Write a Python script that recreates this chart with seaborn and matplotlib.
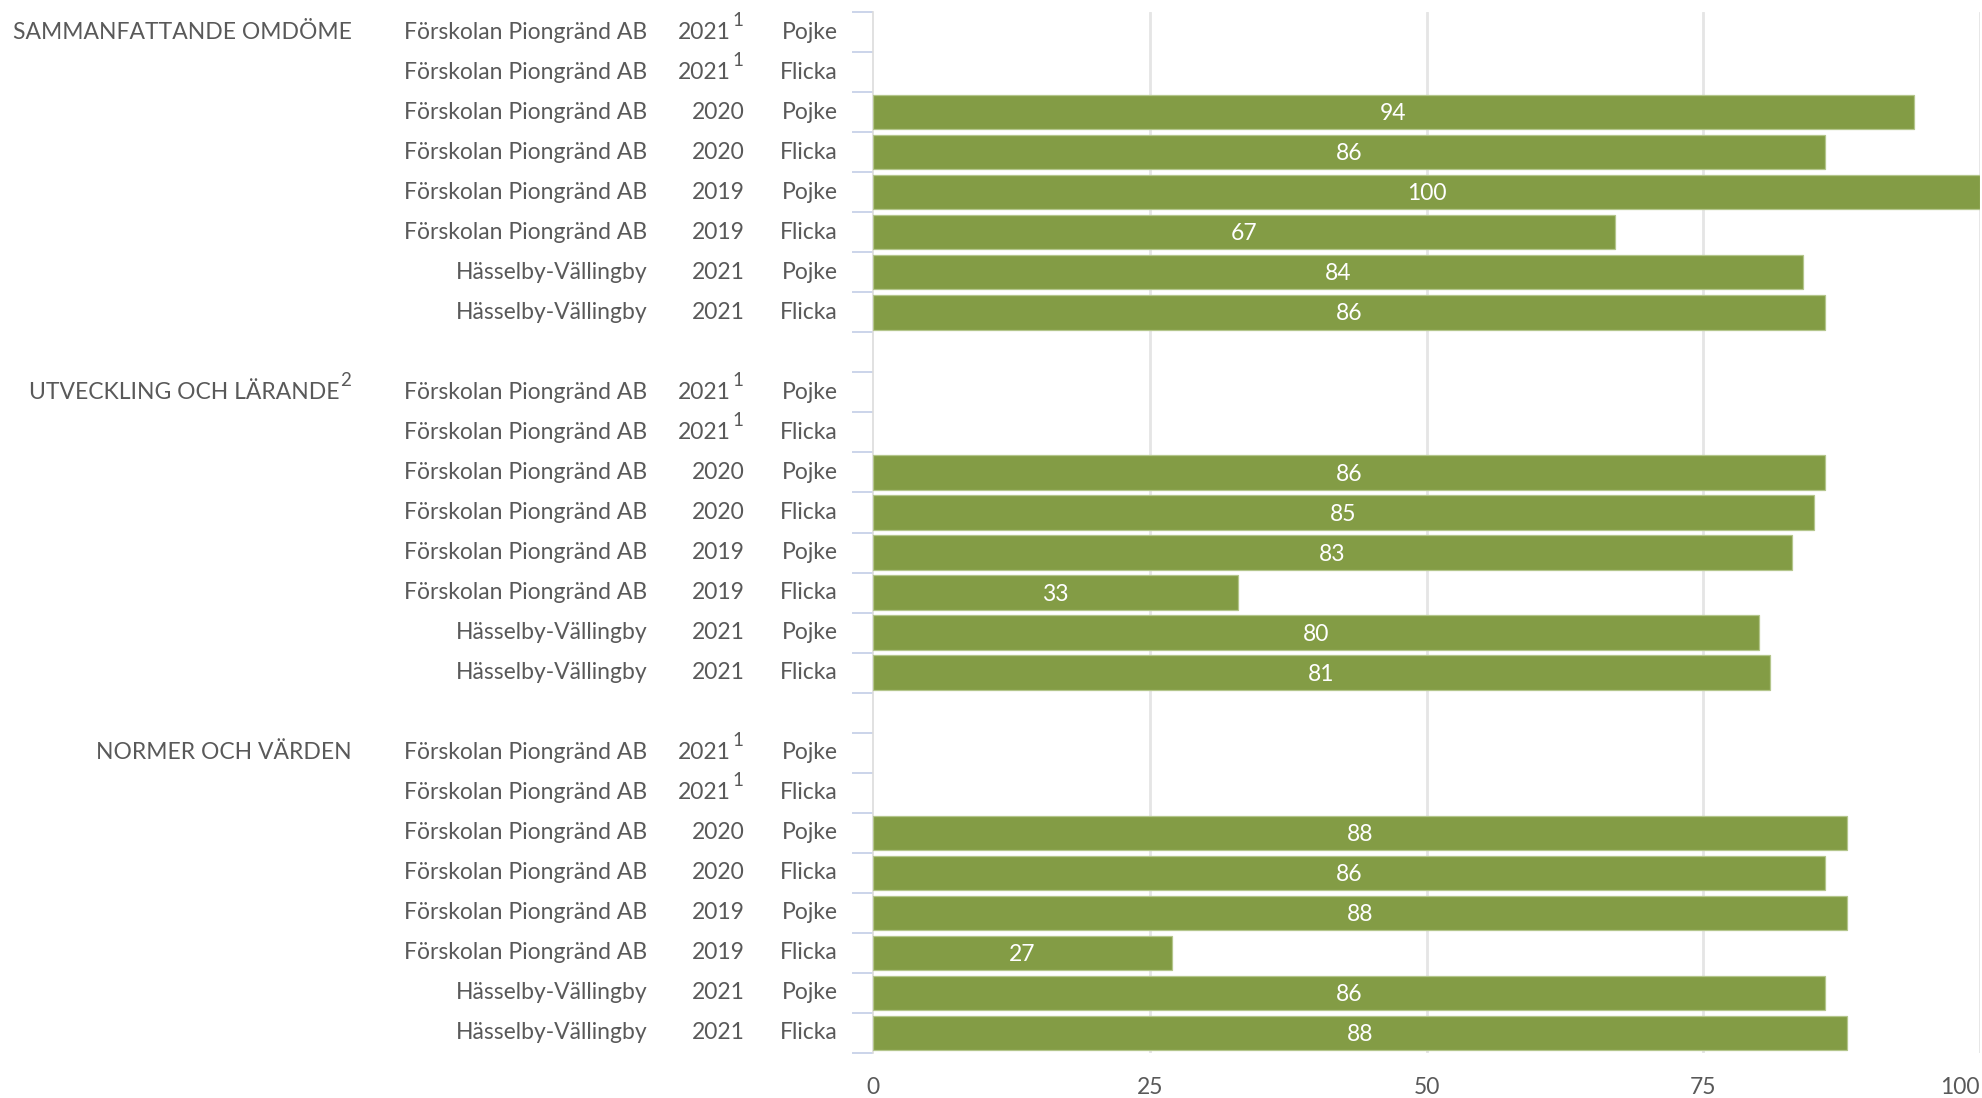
import numpy as np
import pandas as pd
import matplotlib
matplotlib.use("Agg")
import matplotlib.pyplot as plt
import matplotlib.transforms as mtransforms
import seaborn as sns

# ---------------- data ----------------
groups = ["SAMMANFATTANDE OMDÖME", "UTVECKLING OCH LÄRANDE", "NORMER OCH VÄRDEN"]
group_sup = ["", "2", ""]
units = ["Förskolan Piongränd AB"] * 6 + ["Hässelby-Vällingby"] * 2
years = ["2021", "2021", "2020", "2020", "2019", "2019", "2021", "2021"]
year_sup = ["1", "1", "", "", "", "", "", ""]
genders = ["Pojke", "Flicka"] * 4
values_omdome = [np.nan, np.nan, 94, 86, 100, 67, 84, 86]
values_larande = [np.nan, np.nan, 86, 85, 83, 33, 80, 81]
values_normer = [np.nan, np.nan, 88, 86, 88, 27, 86, 88]
x_ticks = [0, 25, 50, 75, 100]

# ---------------- build table ----------------
all_values = [values_omdome, values_larande, values_normer]
rows, vals = [], []
for gi, gv in enumerate(all_values):
    for ri, v in enumerate(gv):
        rows.append(f"g{gi}r{ri}")
        vals.append(v)
    if gi < len(all_values) - 1:
        rows.append(f"gap{gi}")
        vals.append(np.nan)
df = pd.DataFrame({"row": rows, "value": vals})

# ---------------- style ----------------
sns.set_theme(style="white")
plt.rcParams["font.family"] = ["Lato", "DejaVu Sans"]
GREY = "#595959"
GREEN = "#839c45"
FS = 16.5

W, H = 1983, 1098
fig = plt.figure(figsize=(W / 100, H / 100), dpi=100)
x0_px, x1_px = 873, 1980
top_px, bot_px = 12, 1053
ax = fig.add_axes([x0_px / W, 1 - bot_px / H, (x1_px - x0_px) / W, (bot_px - top_px) / H])

sns.barplot(data=df, x="value", y="row", order=rows, orient="h", color=GREEN,
            saturation=1, width=0.86, edgecolor="#b4c68c", linewidth=0.9,
            ax=ax, zorder=3)

ax.set_xlim(0, 100)
ax.set_ylim(len(rows) - 0.5, -0.5)
ax.set_xlabel("")
ax.set_ylabel("")

# gridlines
ax.set_xticks(x_ticks)
ax.set_xticklabels([str(t) for t in x_ticks], color=GREY, fontsize=FS)
ax.tick_params(axis="x", length=0, pad=17)
for t in x_ticks[1:]:
    ax.axvline(t, color="#e5e5e5", lw=2.0, zorder=1)
# keep the last tick label inside the figure
last = ax.get_xticklabels()[-1]
last.set_horizontalalignment("right")

# y ticks at row boundaries
ax.set_yticks(np.arange(-0.5, len(rows), 1.0))
ax.set_yticklabels([])
ax.tick_params(axis="y", direction="out", length=15, width=1.3, color="#c7d1e8", left=True)

for s in ["top", "right", "bottom"]:
    ax.spines[s].set_visible(False)
ax.spines["left"].set_color("#dcdcdc")
ax.spines["left"].set_linewidth(1.2)

# ---------------- labels ----------------
def ax_x(px):
    return (px - x0_px) / (x1_px - x0_px)

trans = mtransforms.blended_transform_factory(ax.transAxes, ax.transData)

pos = 0
for gi, gv in enumerate(all_values):
    # group label
    if group_sup[gi]:
        ax.text(ax_x(339), pos, groups[gi], transform=trans, ha="right", va="center",
                color=GREY, fontsize=FS, clip_on=False)
        ax.text(ax_x(340), pos - 0.3, group_sup[gi], transform=trans, ha="left", va="center",
                color=GREY, fontsize=FS - 3, clip_on=False)
    else:
        ax.text(ax_x(352), pos, groups[gi], transform=trans, ha="right", va="center",
                color=GREY, fontsize=FS, clip_on=False)
    for ri, v in enumerate(gv):
        y = pos + ri
        ax.text(ax_x(647), y, units[ri], transform=trans, ha="right", va="center",
                color=GREY, fontsize=FS, clip_on=False)
        if year_sup[ri]:
            ax.text(ax_x(731), y, years[ri], transform=trans, ha="right", va="center",
                    color=GREY, fontsize=FS, clip_on=False)
            ax.text(ax_x(732), y - 0.3, year_sup[ri], transform=trans, ha="left", va="center",
                    color=GREY, fontsize=FS - 3, clip_on=False)
        else:
            ax.text(ax_x(745), y, years[ri], transform=trans, ha="right", va="center",
                    color=GREY, fontsize=FS, clip_on=False)
        ax.text(ax_x(838), y, genders[ri], transform=trans, ha="right", va="center",
                color=GREY, fontsize=FS, clip_on=False)
        if not np.isnan(v):
            ax.text(v / 2, y + 0.04, f"{v:.0f}", ha="center", va="center",
                    color="white", fontsize=FS, zorder=5)
    pos += len(gv) + 1

fig.savefig("out.png", dpi=100, facecolor="white")
